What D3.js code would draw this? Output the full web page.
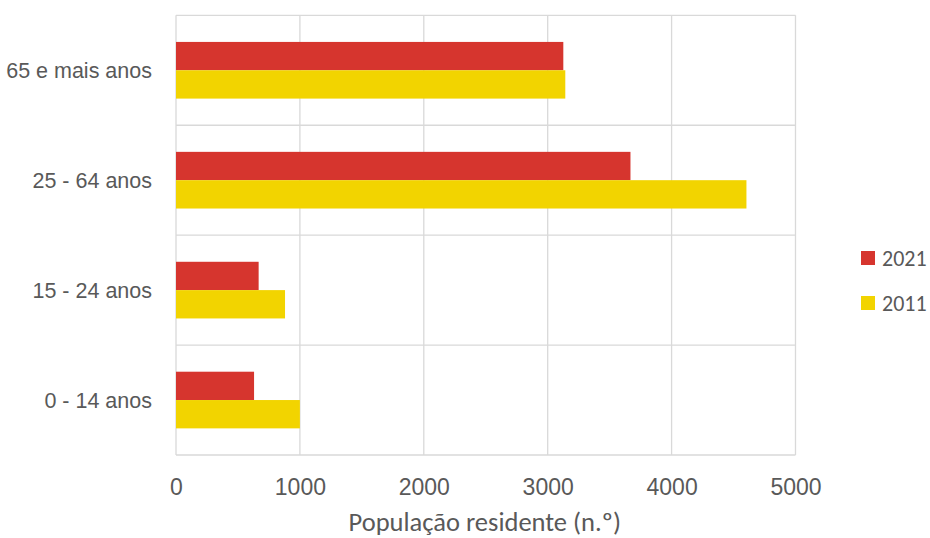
<!DOCTYPE html>
<html>
<head>
<meta charset="utf-8">
<script src="https://cdn.jsdelivr.net/npm/d3@7"></script>
<style>
  html, body { margin: 0; padding: 0; background: #fff; }
  svg { display: block; font-family: Carlito, Calibri, Lato, sans-serif; }
</style>
</head>
<body>
<svg id="chart" width="930" height="538"></svg>
<script>
// Age groups, top to bottom
const categories = ["65 e mais anos", "25 - 64 anos", "15 - 24 anos", "0 - 14 anos"];
const seriesNames = ["2021", "2011"];
const values2021 = [3126, 3668, 667, 630];
const values2011 = [3142, 4604, 880, 1000];
const xTicks = [0, 1000, 2000, 3000, 4000, 5000];
const xTitle = "População residente (n.º)";
const colors = ["#D6352E", "#F2D400"];

const rows = categories.map((c, i) => ({ cat: c, vals: [values2021[i], values2011[i]] }));

const svg = d3.select("#chart");
const plotLeft = 176, plotRight = 795.5, plotTop = 15.3, plotBottom = 455;

const x = d3.scaleLinear().domain([0, 5000]).range([plotLeft, plotRight]);
const y = d3.scaleBand().domain(categories).range([plotTop, plotBottom]);
const inner = d3.scaleBand().domain(seriesNames).range([0, y.bandwidth()]).paddingInner(0).paddingOuter(0.94);

const grid = "#D9D9D9";
const textColor = "#595959";

// vertical gridlines
svg.append("g").selectAll("line").data(xTicks).join("line")
  .attr("x1", d => x(d)).attr("x2", d => x(d))
  .attr("y1", plotTop).attr("y2", plotBottom)
  .attr("stroke", grid).attr("stroke-width", 1.3);

// horizontal band separators
const seps = categories.map(c => y(c)).concat([plotBottom]);
svg.append("g").selectAll("line").data(seps).join("line")
  .attr("x1", plotLeft).attr("x2", plotRight)
  .attr("y1", d => d).attr("y2", d => d)
  .attr("stroke", grid).attr("stroke-width", 1.3);

// bars
const groups = svg.append("g").selectAll("g").data(rows).join("g")
  .attr("transform", d => `translate(0,${y(d.cat)})`);
groups.selectAll("rect").data(d => d.vals.map((v, k) => ({ v, k })))
  .join("rect")
  .attr("x", x(0))
  .attr("y", d => inner(seriesNames[d.k]))
  .attr("width", d => x(d.v) - x(0))
  .attr("height", inner.bandwidth())
  .attr("fill", d => colors[d.k]);

// x axis labels
const xAxis = svg.append("g").attr("transform", `translate(0,${plotBottom})`)
  .call(d3.axisBottom(x).tickValues(xTicks).tickSize(0).tickFormat(d3.format("d")));
xAxis.select(".domain").remove();
xAxis.selectAll("text").attr("y", 40).attr("dy", 0)
  .attr("fill", textColor).style("font-size", "23px");

// y axis labels
const yAxis = svg.append("g").attr("transform", `translate(${plotLeft},0)`)
  .call(d3.axisLeft(y).tickSize(0).tickPadding(24));
yAxis.select(".domain").remove();
yAxis.selectAll("text").attr("dy", 0).attr("y", 7.5)
  .attr("fill", textColor).style("font-size", "21.5px");

// x axis title
svg.append("text")
  .attr("x", (plotLeft + plotRight) / 2 - 1).attr("y", 531)
  .attr("text-anchor", "middle")
  .attr("fill", textColor).style("font-size", "26.5px")
  .text(xTitle);

// legend
const legend = svg.append("g").selectAll("g").data(seriesNames).join("g")
  .attr("transform", (d, i) => `translate(861,${251 + i * 45})`);
legend.append("rect").attr("width", 14).attr("height", 14).attr("fill", (d, i) => colors[i]);
legend.append("text").attr("x", 21).attr("y", 15)
  .attr("fill", textColor).style("font-size", "22px").text(d => d);
</script>
</body>
</html>
